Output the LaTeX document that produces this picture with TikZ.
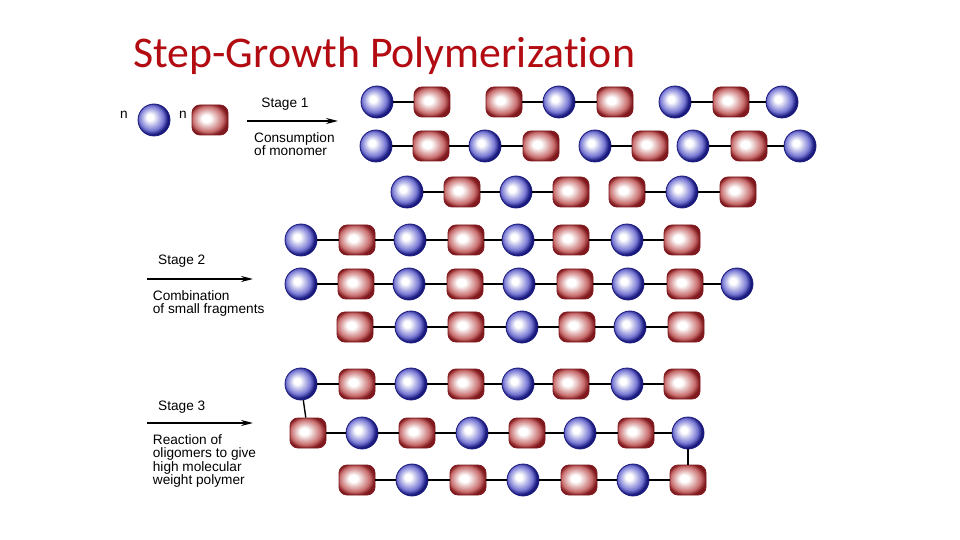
\documentclass[tikz,border=0pt]{standalone}
\usepackage{fontspec}
\setmainfont{Liberation Sans}
\newfontfamily\titlefont[Ligatures=NoCommon]{Carlito}
\usetikzlibrary{arrows.meta}
\definecolor{titlered}{RGB}{178,12,18}
\definecolor{sphlight}{RGB}{120,120,212}
\definecolor{sphdark}{RGB}{25,25,125}
\definecolor{boxlight}{RGB}{200,110,110}
\definecolor{boxdark}{RGB}{128,25,30}
\pgfdeclareradialshading{sphereshade}{\pgfpoint{-7bp}{5bp}}{color(0bp)=(white); color(5bp)=(white); color(19bp)=(sphlight); color(25bp)=(sphdark); color(50bp)=(sphdark)}
\pgfdeclareradialshading{boxshade}{\pgfpoint{-6bp}{3bp}}{color(0bp)=(white); color(6bp)=(white); color(21bp)=(boxlight); color(27bp)=(boxdark); color(50bp)=(boxdark)}
\tikzstyle{mysphere}=[circle, inner sep=0pt, minimum size=32bp,
    shading=sphereshade, draw=sphdark, line width=0.8bp]
\tikzstyle{mybox}=[rectangle, rounded corners=8bp, inner sep=0pt,
    minimum width=36bp, minimum height=30bp,
    shading=boxshade, draw=boxdark, line width=0.8bp]
\tikzstyle{mybond}=[line width=1.4bp, black]
\tikzstyle{myarrow}=[line width=1.4bp, -{Stealth[length=12bp,width=6bp]}]
\tikzstyle{mylabel}=[inner sep=0pt, font=\fontsize{13.7}{13.6}\selectfont]

\begin{document}
\begin{tikzpicture}[x=1bp,y=-1bp]
    \useasboundingbox (0,0) rectangle (960,540);
    \node at (133,68) [anchor=base west, inner sep=0pt, text=titlered,
        font=\titlefont\fontsize{44}{50}\selectfont] (title) {Step-Growth Polymerization};

    % monomers
    \node at (124,119) [mylabel, anchor=base] (n1) {n};
    \node at (154,120) [mysphere] (mono1) {};
    \node at (183,119) [mylabel, anchor=base] (n2) {n};
    \node at (210,120) [mybox] (mono2) {};

    % stage labels and arrows (base anchor = last line)
    \coordinate (s1a) at (247,121);
    \coordinate (s1b) at (338,121);
    \draw[myarrow] (s1a) -- (s1b);
    \node at (285,108) [mylabel, anchor=base] (stage1) {Stage 1};
    \node at (254,155.6) [mylabel, anchor=base west, align=left] (text1) {Consumption\\of monomer};

    \coordinate (s2a) at (147,279);
    \coordinate (s2b) at (253,279);
    \draw[myarrow] (s2a) -- (s2b);
    \node at (158,265) [mylabel, anchor=base west] (stage2) {Stage 2};
    \node at (152.7,313.6) [mylabel, anchor=base west, align=left] (text2) {Combination\\of small fragments};

    \coordinate (s3a) at (147,423);
    \coordinate (s3b) at (253,423);
    \draw[myarrow] (s3a) -- (s3b);
    \node at (158,410) [mylabel, anchor=base west] (stage3) {Stage 3};
    \node at (152.7,484.8) [mylabel, anchor=base west, align=left] (text3) {Reaction of\\oligomers to give\\high molecular\\weight polymer};

    % stage 1: short fragments
    \foreach \x/\kind [count=\i] in {377/mysphere,432/mybox,504/mybox,559/mysphere,615/mybox,675/mysphere,731/mybox,782/mysphere}
        \node[\kind] (ra-\i) at (\x,102) {};
    \foreach \x/\kind [count=\i] in {376/mysphere,431/mybox,485/mysphere,541/mybox,595/mysphere,650/mybox,693/mysphere,749/mybox,800/mysphere}
        \node[\kind] (rb-\i) at (\x,146) {};
    \foreach \x/\kind [count=\i] in {407/mysphere,462/mybox,516/mysphere,571/mybox,627/mybox,682/mysphere,738/mybox}
        \node[\kind] (rc-\i) at (\x,192) {};
    \foreach \a/\b in {ra-1/ra-2,ra-3/ra-4,ra-4/ra-5,ra-6/ra-7,ra-7/ra-8,
                       rb-1/rb-2,rb-2/rb-3,rb-3/rb-4,rb-5/rb-6,rb-7/rb-8,rb-8/rb-9,
                       rc-1/rc-2,rc-2/rc-3,rc-3/rc-4,rc-5/rc-6,rc-6/rc-7}
        \draw[mybond] (\a) -- (\b);

    % stage 2: oligomers
    \foreach \x/\kind [count=\i] in {301/mysphere,357/mybox,410/mysphere,466/mybox,518/mysphere,571/mybox,627/mysphere,682/mybox}
        \node[\kind] (rd-\i) at (\x,240) {};
    \foreach \x/\kind [count=\i] in {301/mysphere,356/mybox,409/mysphere,465/mybox,519/mysphere,575/mybox,628/mysphere,685/mybox,737/mysphere}
        \node[\kind] (re-\i) at (\x,284) {};
    \foreach \x/\kind [count=\i] in {355/mybox,411/mysphere,466/mybox,522/mysphere,577/mybox,630/mysphere,686/mybox}
        \node[\kind] (rf-\i) at (\x,327) {};
    \foreach \i [remember=\i as \j (initially 1)] in {2,...,8}
        \draw[mybond] (rd-\j) -- (rd-\i);
    \foreach \i [remember=\i as \j (initially 1)] in {2,...,9}
        \draw[mybond] (re-\j) -- (re-\i);
    \foreach \i [remember=\i as \j (initially 1)] in {2,...,7}
        \draw[mybond] (rf-\j) -- (rf-\i);

    % stage 3: one long chain
    \foreach \x/\kind [count=\i] in {301/mysphere,357/mybox,411/mysphere,466/mybox,518/mysphere,571/mybox,627/mysphere,682/mybox}
        \node[\kind] (rg-\i) at (\x,384) {};
    \foreach \x/\kind [count=\i] in {308/mybox,362/mysphere,417/mybox,472/mysphere,527/mybox,580/mysphere,636/mybox,688/mysphere}
        \node[\kind] (rh-\i) at (\x,433) {};
    \foreach \x/\kind [count=\i] in {357/mybox,412/mysphere,468/mybox,523/mysphere,579/mybox,633/mysphere,688/mybox}
        \node[\kind] (ri-\i) at (\x,480) {};
    \foreach \i [remember=\i as \j (initially 1)] in {2,...,8}
        \draw[mybond] (rg-\j) -- (rg-\i);
    \foreach \i [remember=\i as \j (initially 1)] in {2,...,8}
        \draw[mybond] (rh-\j) -- (rh-\i);
    \foreach \i [remember=\i as \j (initially 1)] in {2,...,7}
        \draw[mybond] (ri-\j) -- (ri-\i);
    \draw[mybond] (rg-1) -- (rh-1);
    \draw[mybond] (rh-8) -- (ri-7);
\end{tikzpicture}
\end{document}
